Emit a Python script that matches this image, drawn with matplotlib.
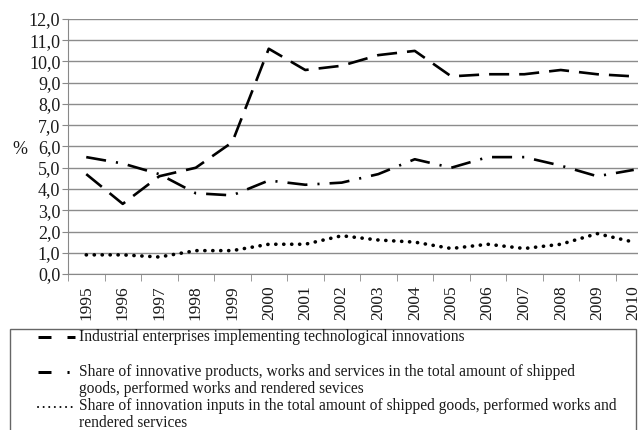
import matplotlib
matplotlib.use("Agg")
import matplotlib.pyplot as plt
from matplotlib.lines import Line2D
from matplotlib.patches import Rectangle
import numpy as np

plt.rcParams['font.family'] = ['Liberation Serif', 'DejaVu Serif']

years = ['1995', '1996', '1997', '1998', '1999', '2000', '2001', '2002',
         '2003', '2004', '2005', '2006', '2007', '2008', '2009', '2010']
industrial = [4.7, 3.3, 4.6, 5.0, 6.2, 10.6, 9.6, 9.8, 10.3, 10.5, 9.3, 9.4, 9.4, 9.6, 9.4, 9.3]
innov_products = [5.5, 5.2, 4.7, 3.8, 3.7, 4.4, 4.2, 4.3, 4.7, 5.4, 5.0, 5.5, 5.5, 5.1, 4.6, 4.9]
innov_inputs = [0.9, 0.9, 0.8, 1.1, 1.1, 1.4, 1.4, 1.8, 1.6, 1.5, 1.2, 1.4, 1.2, 1.4, 1.9, 1.5]
yticks = [0, 1, 2, 3, 4, 5, 6, 7, 8, 9, 10, 11, 12]
ytick_labels = ['0,0', '1,0', '2,0', '3,0', '4,0', '5,0', '6,0', '7,0', '8,0', '9,0', '10,0', '11,0', '12,0']
labels = [['Industrial enterprises implementing technological innovations'],
          ['Share of innovative products, works and services in the total amount of shipped',
           'goods, performed works and rendered sevices'],
          ['Share of innovation inputs in the total amount of shipped goods, performed works and',
           'rendered services']]

W, H = 638, 430
fig = plt.figure(figsize=(W / 100, H / 100), dpi=100)
ax = fig.add_axes([68 / W, 1 - 274 / H, (652 - 68) / W, (274 - 19) / H])

x = np.arange(len(years))
LW = 1.9
ls1 = (0, (7.6, 3.8))
ls2 = (0, (7.6, 3.8, 0.8, 3.8))
ls3 = (0, (0.05, 2.15))
ax.plot(x, industrial, color='black', lw=LW, linestyle=ls1, dash_capstyle='butt')
ax.plot(x, innov_products, color='black', lw=LW, linestyle=ls2, dash_capstyle='butt')
ax.plot(x, innov_inputs, color='black', lw=2.6, linestyle=ls3, dash_capstyle='round')

ax.set_xlim(-0.5, len(years) - 0.5)
ax.set_ylim(0, 12)
ax.set_yticks(yticks)
ax.set_yticklabels(ytick_labels, fontsize=13, color='#1a1a1a')
ax.set_xticks(x)
ax.set_xticklabels(years, rotation=90, fontsize=12.5, color='#1a1a1a')
ax.set_xticks(np.arange(len(years) + 1) - 0.5, minor=True)
ax.tick_params(axis='x', which='major', length=0, pad=8)
ax.tick_params(axis='x', which='minor', length=5, color='#888888', direction='out')
ax.tick_params(axis='y', length=4, color='#888888', direction='out', pad=1.5)
ax.grid(axis='y', color='#8c8c8c', lw=1.0)
for s in ['top', 'right']:
    ax.spines[s].set_visible(False)
ax.spines['left'].set_color('#888888')
ax.spines['bottom'].set_color('#888888')
ax.set_axisbelow(True)

fig.text(12 / W, 1 - 150 / H, '%', fontsize=13, ha='left', va='center', color='#1a1a1a')

# legend box
fig.patches.append(Rectangle((10 / W, -0.05), (636 - 10) / W, (0.05 + 1 - 329 / H),
                             transform=fig.transFigure, fill=False, edgecolor='#666666', lw=1.0))
handles = [(337, (0, (4.33, 5.33)), 2.16, 'butt'),
           (372, (0, (4.33, 5.33, 0.7, 5.33)), 2.16, 'butt'),
           (407, (0, (0.05, 2.75)), 1.44, 'round')]
for (yc, ls, lw, cap) in handles:
    yy = 1 - yc / H
    fig.add_artist(Line2D([38 / W, 74.5 / W], [yy, yy], transform=fig.transFigure,
                          color='black', lw=lw, linestyle=ls, dash_capstyle=cap))
baselines = [[341], [376, 393], [410, 427]]
for ybs, lines in zip(baselines, labels):
    for yb, line in zip(ybs, lines):
        fig.text(79 / W, 1 - yb / H, line, fontsize=11.2, ha='left', va='baseline',
                 color='#1a1a1a')

fig.savefig('out.png', dpi=100)
